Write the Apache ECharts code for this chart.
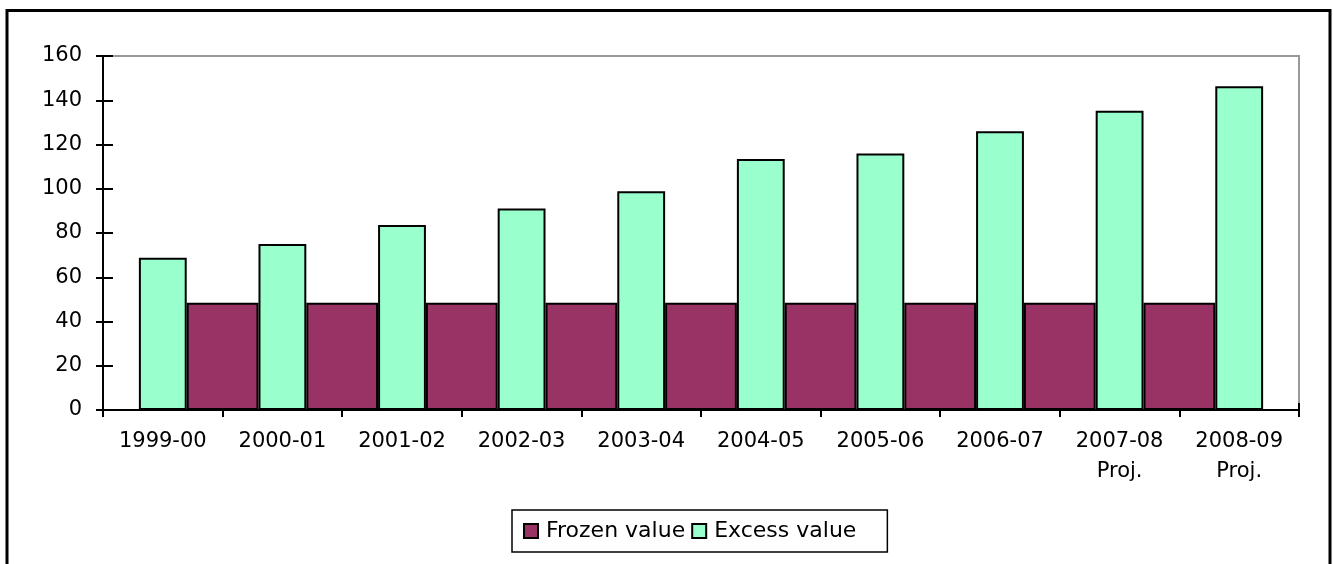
<!DOCTYPE html>
<html>
<head>
<meta charset="utf-8">
<script src="https://cdn.jsdelivr.net/npm/echarts@6/dist/echarts.min.js"></script>
<style>
  html, body { margin: 0; padding: 0; background: #fff; }
  #chart { width: 1333px; height: 564px; }
</style>
</head>
<body>
<div id="chart"></div>
<script>
// Financial years shown on the category axis
const years = ['1999-00', '2000-01', '2001-02', '2002-03', '2003-04',
               '2004-05', '2005-06', '2006-07', '2007-08\nProj.', '2008-09\nProj.'];
// Excess value per year
const excessValues = [68.8, 75.0, 83.6, 91.1, 98.9, 113.5, 115.9, 126.0, 135.2, 146.3];
// Frozen value, drawn between consecutive years
const frozenValues = [48.5, 48.5, 48.5, 48.5, 48.5, 48.5, 48.5, 48.5, 48.5];
// Value axis ticks
const yTicks = { min: 0, max: 160, step: 20 };

const FONT = 'DejaVu Sans';
const MAROON = '#993366';
const MINT = '#99FFCC';

// Boundary positions between years (one more than the number of years)
const boundaries = [];
for (let i = 0; i <= years.length; i++) boundaries.push(String(i));
const frozenOnBoundaries = [null].concat(frozenValues, [null]);

const chart = echarts.init(document.getElementById('chart'), null, { renderer: 'canvas' });

chart.setOption({
  animation: false,
  backgroundColor: '#fff',
  grid: {
    left: 103, right: 34, top: 56, bottom: 154,
    outerBoundsMode: 'none',
    show: true,
    borderColor: '#999',
    borderWidth: 2,
    backgroundColor: 'transparent'
  },
  legend: {
    data: ['Frozen value', 'Excess value'],
    left: 512, top: 510,
    orient: 'horizontal',
    itemWidth: 14, itemHeight: 14, itemGap: 6,
    padding: [10, 31, 10, 11],
    borderColor: '#000', borderWidth: 1.5,
    icon: 'rect',
    textStyle: { fontFamily: FONT, fontSize: 22, color: '#000', padding: [0, 0, 0, 3] }
  },
  xAxis: [
    {
      type: 'category',
      position: 'bottom',
      data: years,
      boundaryGap: true,
      axisLine: { show: true, onZero: false, lineStyle: { color: '#000', width: 2 } },
      axisTick: { show: true, inside: false, length: 7, lineStyle: { color: '#000', width: 2 } },
      axisLabel: { fontFamily: FONT, fontSize: 21, color: '#000', margin: 17, lineHeight: 30, interval: 0 },
      splitLine: { show: false }
    },
    {
      type: 'category',
      position: 'bottom',
      data: boundaries,
      boundaryGap: false,
      axisLine: { show: false, onZero: false },
      axisTick: { show: true, inside: true, length: 7, interval: 0, lineStyle: { color: '#000', width: 2 } },
      axisLabel: { show: false },
      splitLine: { show: false }
    }
  ],
  yAxis: [
    {
      type: 'value',
      position: 'left',
      min: yTicks.min, max: yTicks.max, interval: yTicks.step,
      axisLine: { show: true, lineStyle: { color: '#000', width: 2 } },
      axisTick: { show: true, inside: false, length: 7, lineStyle: { color: '#000', width: 2 } },
      axisLabel: { fontFamily: FONT, fontSize: 21, color: '#000', margin: 21 },
      splitLine: { show: false }
    },
    {
      type: 'value',
      position: 'left',
      min: yTicks.min, max: yTicks.max, interval: yTicks.step,
      axisLine: { show: false },
      axisTick: { show: true, inside: true, length: 10, lineStyle: { color: '#000', width: 2 } },
      axisLabel: { show: false },
      splitLine: { show: false }
    }
  ],
  series: [
    {
      name: 'Frozen value',
      type: 'bar',
      xAxisIndex: 1,
      yAxisIndex: 0,
      data: frozenOnBoundaries,
      barWidth: '60%',
      z: 2,
      itemStyle: { color: MAROON, borderColor: '#000', borderWidth: 2 }
    },
    {
      name: 'Excess value',
      type: 'bar',
      xAxisIndex: 0,
      yAxisIndex: 0,
      data: excessValues,
      barWidth: '40%',
      z: 3,
      itemStyle: { color: MINT, borderColor: '#000', borderWidth: 2 }
    }
  ],
  graphic: [
    {
      type: 'rect',
      silent: true,
      z: 100,
      shape: { x: 7, y: 10.5, width: 1323, height: 600 },
      style: { fill: null, stroke: '#000', lineWidth: 3 }
    }
  ]
});
</script>
</body>
</html>
